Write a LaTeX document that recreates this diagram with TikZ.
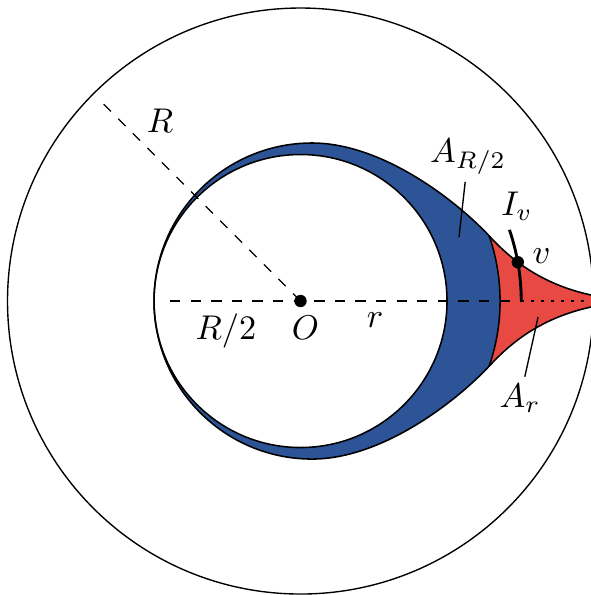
\documentclass[tikz,border=0pt]{standalone}
\usepackage{amsmath,amssymb}
\usepackage{tikz}
\usetikzlibrary{intersections, calc}
\usepackage{xcolor}

\definecolor{dropblue}{RGB}{44,84,150}
\definecolor{dropred}{RGB}{232,74,67}

% outline of the drop shaped region (cusp on the right)
\newcommand{\droppath}{(3.584,0)
    .. controls (2.662,0) and (2.219,0.359) .. (1.940,0.658)
    .. controls (1.592,1.032) and (0.834,1.618) .. (0.118,1.618)
    arc[start angle=90, end angle=270, radius=1.618]
    .. controls (0.834,-1.618) and (1.592,-1.032) .. (1.940,-0.658)
    .. controls (2.219,-0.359) and (2.662,0) .. (3.584,0) -- cycle}

\begin{document}
\begin{tikzpicture}[
    region_line/.style={
        draw=black,
        line width=0.45pt
    },
    guide_line/.style={
        dashed,
        draw=black,
        line width=0.4pt
    },
    tail_line/.style={
        draw=black,
        line width=0.4pt,
        dash pattern=on 0.9pt off 2pt
    },
    interval_line/.style={
        draw=black,
        line width=0.85pt
    },
    point_dot/.style={
        fill=black
    },
    math_label/.style={
        inner sep=2pt
    },
    pointer_line/.style={
        draw=black,
        line width=0.4pt
    }
]

\useasboundingbox (-3.077,-3.01) rectangle (2.974,3.082);

% Centre and helper coordinates
\coordinate (O) at (0,0);
\coordinate (hl) at (-1.336,0);
\coordinate (foot) at (2.26,0);
\coordinate (cusp) at (3.584,0);
\coordinate (rend) at (135:2.85);
\coordinate (pA) at (1.623,0.655);
\coordinate (pB) at (2.432,-0.164);

% Blue part: the whole drop
\fill[dropblue] \droppath;

% Red part: the drop outside radius r
\begin{scope}
    \clip \droppath;
    \fill[dropred, even odd rule] (O) circle (4) (O) circle (2.043);
    \draw[region_line] (O) circle (2.043);
\end{scope}

% Inner disk of radius R/2
\filldraw[fill=white, region_line] (O) circle (1.5);

% Drop outline
\draw[region_line, name path=drop] \droppath;

% Outer disk of radius R
\draw[line width=0.4pt] (O) circle (3);

% Radii
\draw[guide_line] (rend) -- (O);
\draw[guide_line] (hl) -- (foot);
\draw[tail_line] (foot) -- (cusp);

% Interval I_v and the point v on the drop
\draw[interval_line, name path=ivarc] (foot) arc[start angle=0, end angle=18.8, radius=2.26];
\path[name intersections={of=drop and ivarc, by=v}];

\fill[point_dot] (O) circle (1.8pt);
\fill[point_dot] (v) circle (1.8pt);

% Labels
\node[math_label] (lR) at (-1.439,1.843) {$R$};
\node[math_label] (lRhalf) at (-0.763,-0.31) {$R/2$};
\node[math_label] (lO) at (0.051,-0.271) {$O$};
\node[math_label] (lr) at (0.763,-0.195) {$r$};
\node[math_label] (lIv) at (2.217,0.968) {$I_v$};
\node[math_label] (lv) at (2.468,0.461) {$v$};
\node[math_label] (aRhalf) at (1.715,1.48) {$A_{R/2}$};
\node[math_label] (ar) at (2.247,-0.998) {$A_r$};

% Pointers to the regions
\draw[pointer_line] (aRhalf) -- (pA);
\draw[pointer_line] (ar) -- (pB);

\end{tikzpicture}
\end{document}
